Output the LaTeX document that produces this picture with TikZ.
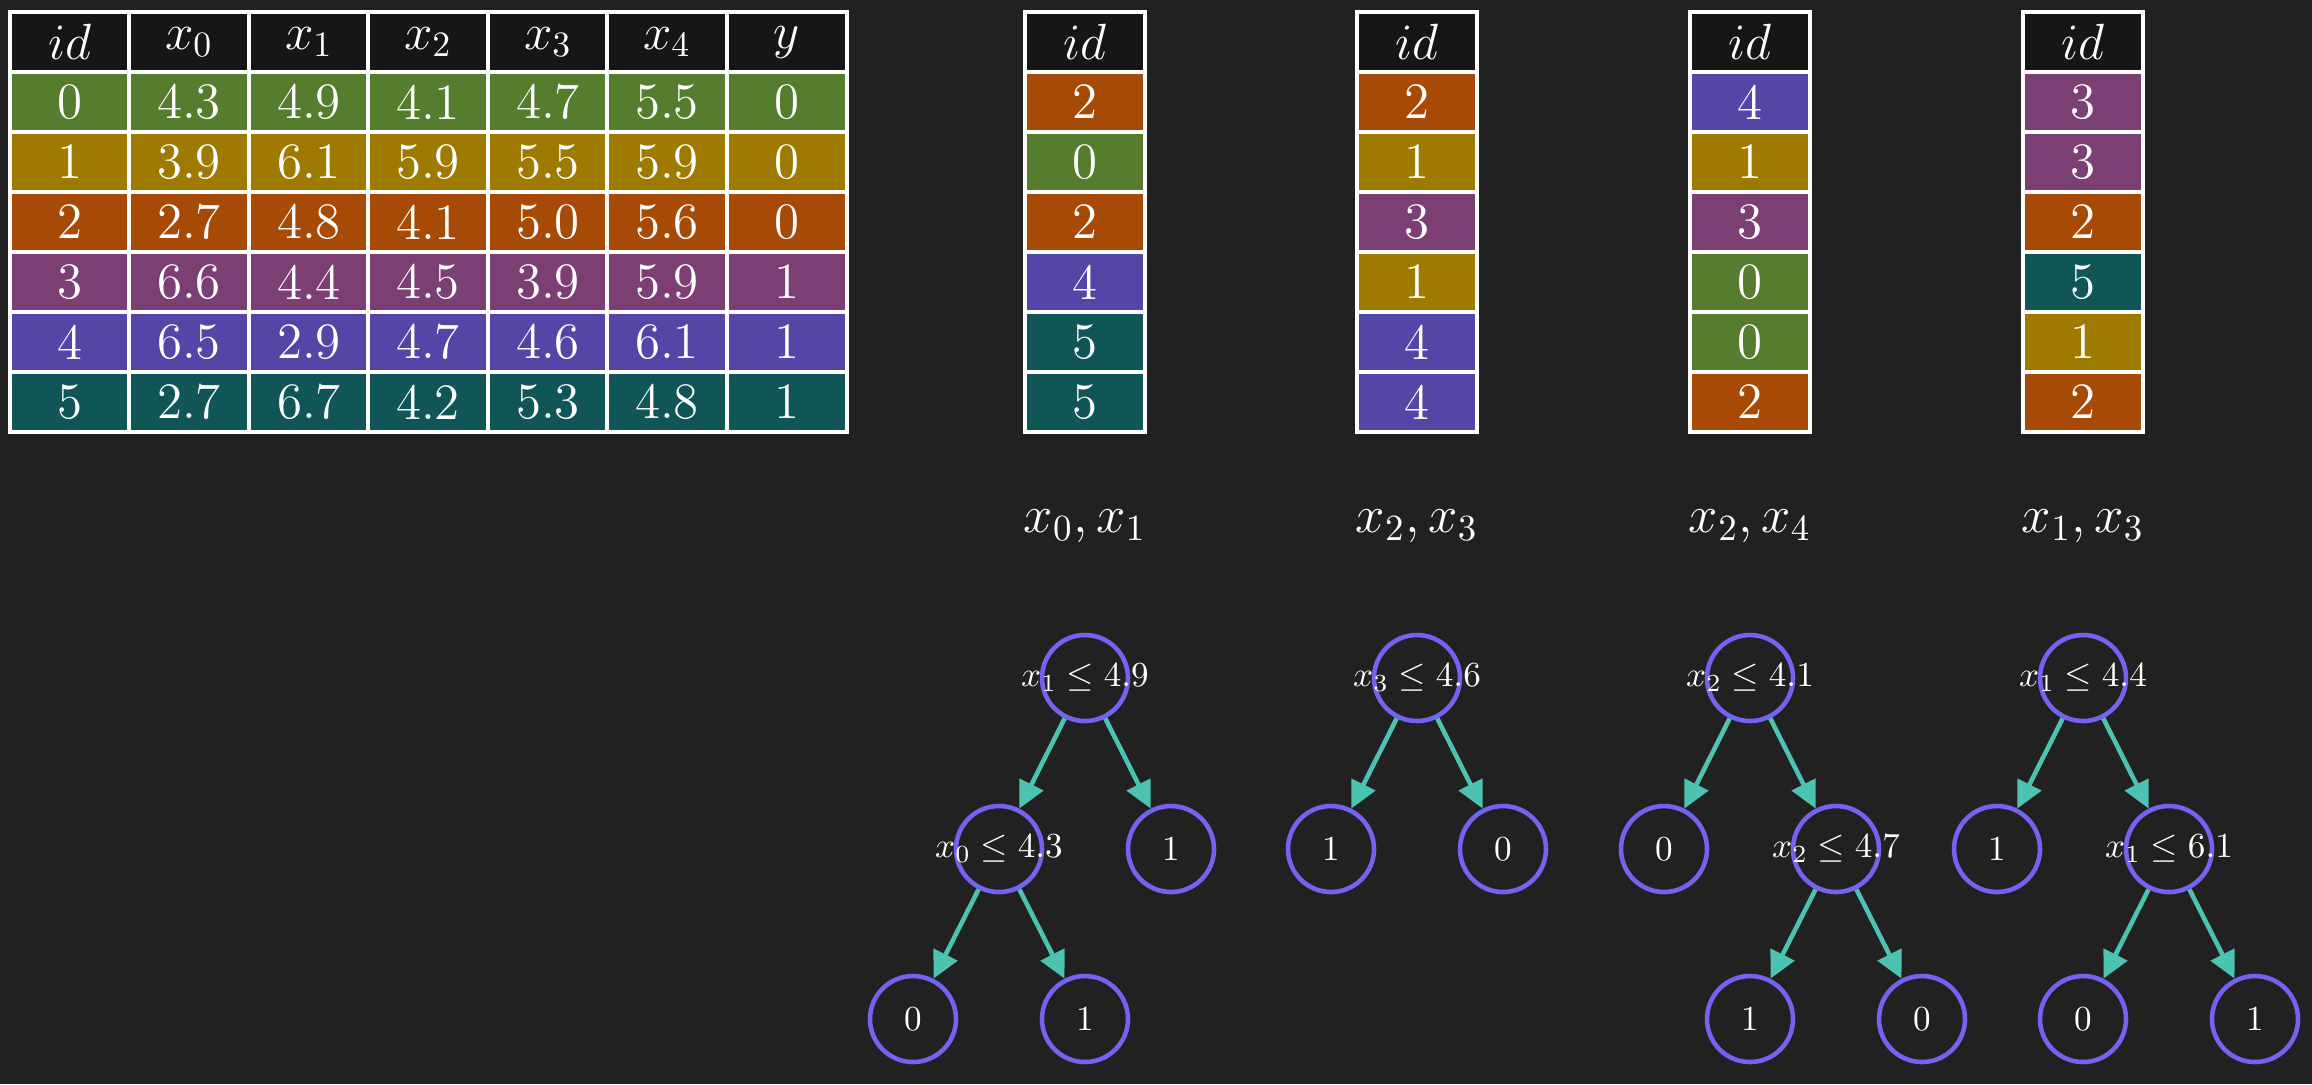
\RequirePackage{fix-cm}
\documentclass[tikz,border=0pt]{standalone}
\usepackage{amsmath}
\usepackage{tikz}
\usetikzlibrary{arrows.meta, positioning}
\definecolor{bgdark}{RGB}{33,33,33}
\definecolor{hdrblack}{RGB}{22,22,22}
\definecolor{rowgreen}{RGB}{86,125,46}
\definecolor{rowgold}{RGB}{158,122,0}
\definecolor{roworange}{RGB}{166,74,6}
\definecolor{rowpurple}{RGB}{123,63,116}
\definecolor{rowblue}{RGB}{84,69,166}
\definecolor{rowteal}{RGB}{17,86,86}
\definecolor{nodeviolet}{RGB}{116,99,240}
\definecolor{edgeteal}{RGB}{76,195,176}
\tikzset{
  cell/.style={rectangle, draw=white, line width=1.2pt, text=white,
    minimum width=1.195cm, minimum height=0.6cm, inner sep=0pt,
    outer sep=0pt, font=\fontsize{14.5}{16}\selectfont},
  hdr/.style={cell, fill=hdrblack},
  cg/.style={cell, fill=rowgreen},
  cy/.style={cell, fill=rowgold},
  co/.style={cell, fill=roworange},
  cp/.style={cell, fill=rowpurple},
  cb/.style={cell, fill=rowblue},
  ct/.style={cell, fill=rowteal},
  featlabel/.style={text=white, font=\fontsize{15}{18}\selectfont},
  tnode/.style={circle, draw=nodeviolet, line width=1.3pt,
    minimum size=0.86cm, inner sep=0pt,
    label={[text=white, font=\fontsize{10}{12}\selectfont]center:#1}},
  arrow/.style={-{Triangle[length=0.27cm, width=0.26cm]}, line width=1.3pt, color=edgeteal}
}
\begin{document}
\begin{tikzpicture}
  % Background
  \fill[bgdark] (0,0) rectangle (23.12,-10.84);
  \useasboundingbox (0,0) rectangle (23.12,-10.84);

  % Full data set
  \node[hdr] (d-0-0) at (0.70,-0.42) {$id$};
  \node[hdr] (d-0-1) at (1.89,-0.42) {$x_0$};
  \node[hdr] (d-0-2) at (3.09,-0.42) {$x_1$};
  \node[hdr] (d-0-3) at (4.28,-0.42) {$x_2$};
  \node[hdr] (d-0-4) at (5.48,-0.42) {$x_3$};
  \node[hdr] (d-0-5) at (6.67,-0.42) {$x_4$};
  \node[hdr] (d-0-6) at (7.87,-0.42) {$y$};

  \node[cg] (d-1-0) at (0.70,-1.02) {0};
  \node[cg] (d-1-1) at (1.89,-1.02) {4.3};
  \node[cg] (d-1-2) at (3.09,-1.02) {4.9};
  \node[cg] (d-1-3) at (4.28,-1.02) {4.1};
  \node[cg] (d-1-4) at (5.48,-1.02) {4.7};
  \node[cg] (d-1-5) at (6.67,-1.02) {5.5};
  \node[cg] (d-1-6) at (7.87,-1.02) {0};

  \node[cy] (d-2-0) at (0.70,-1.62) {1};
  \node[cy] (d-2-1) at (1.89,-1.62) {3.9};
  \node[cy] (d-2-2) at (3.09,-1.62) {6.1};
  \node[cy] (d-2-3) at (4.28,-1.62) {5.9};
  \node[cy] (d-2-4) at (5.48,-1.62) {5.5};
  \node[cy] (d-2-5) at (6.67,-1.62) {5.9};
  \node[cy] (d-2-6) at (7.87,-1.62) {0};

  \node[co] (d-3-0) at (0.70,-2.22) {2};
  \node[co] (d-3-1) at (1.89,-2.22) {2.7};
  \node[co] (d-3-2) at (3.09,-2.22) {4.8};
  \node[co] (d-3-3) at (4.28,-2.22) {4.1};
  \node[co] (d-3-4) at (5.48,-2.22) {5.0};
  \node[co] (d-3-5) at (6.67,-2.22) {5.6};
  \node[co] (d-3-6) at (7.87,-2.22) {0};

  \node[cp] (d-4-0) at (0.70,-2.82) {3};
  \node[cp] (d-4-1) at (1.89,-2.82) {6.6};
  \node[cp] (d-4-2) at (3.09,-2.82) {4.4};
  \node[cp] (d-4-3) at (4.28,-2.82) {4.5};
  \node[cp] (d-4-4) at (5.48,-2.82) {3.9};
  \node[cp] (d-4-5) at (6.67,-2.82) {5.9};
  \node[cp] (d-4-6) at (7.87,-2.82) {1};

  \node[cb] (d-5-0) at (0.70,-3.42) {4};
  \node[cb] (d-5-1) at (1.89,-3.42) {6.5};
  \node[cb] (d-5-2) at (3.09,-3.42) {2.9};
  \node[cb] (d-5-3) at (4.28,-3.42) {4.7};
  \node[cb] (d-5-4) at (5.48,-3.42) {4.6};
  \node[cb] (d-5-5) at (6.67,-3.42) {6.1};
  \node[cb] (d-5-6) at (7.87,-3.42) {1};

  \node[ct] (d-6-0) at (0.70,-4.02) {5};
  \node[ct] (d-6-1) at (1.89,-4.02) {2.7};
  \node[ct] (d-6-2) at (3.09,-4.02) {6.7};
  \node[ct] (d-6-3) at (4.28,-4.02) {4.2};
  \node[ct] (d-6-4) at (5.48,-4.02) {5.3};
  \node[ct] (d-6-5) at (6.67,-4.02) {4.8};
  \node[ct] (d-6-6) at (7.87,-4.02) {1};

  % Bootstrap samples
  \node[hdr] (s1-0) at (10.85,-0.42) {$id$};
  \node[co] (s1-1) at (10.85,-1.02) {2};
  \node[cg] (s1-2) at (10.85,-1.62) {0};
  \node[co] (s1-3) at (10.85,-2.22) {2};
  \node[cb] (s1-4) at (10.85,-2.82) {4};
  \node[ct] (s1-5) at (10.85,-3.42) {5};
  \node[ct] (s1-6) at (10.85,-4.02) {5};

  \node[hdr] (s2-0) at (14.17,-0.42) {$id$};
  \node[co] (s2-1) at (14.17,-1.02) {2};
  \node[cy] (s2-2) at (14.17,-1.62) {1};
  \node[cp] (s2-3) at (14.17,-2.22) {3};
  \node[cy] (s2-4) at (14.17,-2.82) {1};
  \node[cb] (s2-5) at (14.17,-3.42) {4};
  \node[cb] (s2-6) at (14.17,-4.02) {4};

  \node[hdr] (s3-0) at (17.50,-0.42) {$id$};
  \node[cb] (s3-1) at (17.50,-1.02) {4};
  \node[cy] (s3-2) at (17.50,-1.62) {1};
  \node[cp] (s3-3) at (17.50,-2.22) {3};
  \node[cg] (s3-4) at (17.50,-2.82) {0};
  \node[cg] (s3-5) at (17.50,-3.42) {0};
  \node[co] (s3-6) at (17.50,-4.02) {2};

  \node[hdr] (s4-0) at (20.83,-0.42) {$id$};
  \node[cp] (s4-1) at (20.83,-1.02) {3};
  \node[cp] (s4-2) at (20.83,-1.62) {3};
  \node[co] (s4-3) at (20.83,-2.22) {2};
  \node[ct] (s4-4) at (20.83,-2.82) {5};
  \node[cy] (s4-5) at (20.83,-3.42) {1};
  \node[co] (s4-6) at (20.83,-4.02) {2};

  % Feature subsets
  \node[featlabel] (f1) at (10.85,-5.26) {$x_0, x_1$};
  \node[featlabel] (f2) at (14.17,-5.26) {$x_2, x_3$};
  \node[featlabel] (f3) at (17.50,-5.26) {$x_2, x_4$};
  \node[featlabel] (f4) at (20.83,-5.26) {$x_1, x_3$};

  % Tree 1
  \node[tnode={$x_1 \leq 4.9$}] (a) at (10.85,-6.78) {};
  \node[tnode={$x_0 \leq 4.3$}] (al) at (9.99,-8.49) {};
  \node[tnode={1}] (ar) at (11.71,-8.49) {};
  \node[tnode={0}] (all) at (9.13,-10.19) {};
  \node[tnode={1}] (alr) at (10.85,-10.19) {};
  \draw[arrow] (a) -- (al);
  \draw[arrow] (a) -- (ar);
  \draw[arrow] (al) -- (all);
  \draw[arrow] (al) -- (alr);

  % Tree 2
  \node[tnode={$x_3 \leq 4.6$}] (b) at (14.17,-6.78) {};
  \node[tnode={1}] (bl) at (13.31,-8.49) {};
  \node[tnode={0}] (br) at (15.03,-8.49) {};
  \draw[arrow] (b) -- (bl);
  \draw[arrow] (b) -- (br);

  % Tree 3
  \node[tnode={$x_2 \leq 4.1$}] (c) at (17.50,-6.78) {};
  \node[tnode={0}] (cl) at (16.64,-8.49) {};
  \node[tnode={$x_2 \leq 4.7$}] (cr) at (18.36,-8.49) {};
  \node[tnode={1}] (crl) at (17.50,-10.19) {};
  \node[tnode={0}] (crr) at (19.22,-10.19) {};
  \draw[arrow] (c) -- (cl);
  \draw[arrow] (c) -- (cr);
  \draw[arrow] (cr) -- (crl);
  \draw[arrow] (cr) -- (crr);

  % Tree 4
  \node[tnode={$x_1 \leq 4.4$}] (e) at (20.83,-6.78) {};
  \node[tnode={1}] (el) at (19.97,-8.49) {};
  \node[tnode={$x_1 \leq 6.1$}] (er) at (21.69,-8.49) {};
  \node[tnode={0}] (erl) at (20.83,-10.19) {};
  \node[tnode={1}] (err) at (22.55,-10.19) {};
  \draw[arrow] (e) -- (el);
  \draw[arrow] (e) -- (er);
  \draw[arrow] (er) -- (erl);
  \draw[arrow] (er) -- (err);
\end{tikzpicture}
\end{document}
